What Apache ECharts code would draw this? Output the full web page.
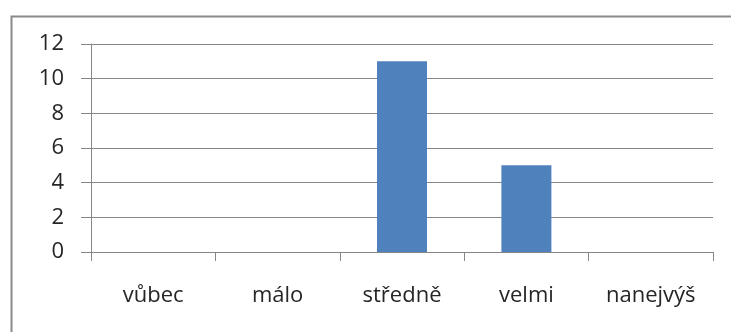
<!DOCTYPE html>
<html>
<head>
<meta charset="utf-8">
<script src="https://cdn.jsdelivr.net/npm/echarts@6/dist/echarts.min.js"></script>
<style>
  html, body { margin: 0; padding: 0; background: #ffffff; }
  #chart { width: 731px; height: 332px; }
</style>
</head>
<body>
<div id="chart"></div>
<script>
// Answer categories and counts
const categories = ['vůbec', 'málo', 'středně', 'velmi', 'nanejvýš'];
const counts = [0, 0, 11, 5, 0];
const yTicks = { min: 0, max: 12, step: 2 };

const gridGray = '#868686';
const textColor = '#262626';
const fontFamily = '"Open Sans", "DejaVu Sans", sans-serif';

const chart = echarts.init(document.getElementById('chart'), null, { renderer: 'canvas' });

chart.setOption({
  animation: false,
  backgroundColor: '#ffffff',
  graphic: [{
    type: 'rect',
    left: 9,
    top: 14,
    shape: { width: 800, height: 400 },
    style: { fill: 'none', stroke: '#8a8a8a', lineWidth: 2 },
    silent: true
  }],
  grid: { left: 91, right: 18, top: 44, bottom: 80, containLabel: false },
  xAxis: {
    type: 'category',
    data: categories,
    boundaryGap: true,
    axisLine: { show: true, lineStyle: { color: gridGray, width: 1 } },
    axisTick: { show: true, length: 9, interval: 0, alignWithLabel: false, lineStyle: { color: gridGray } },
    axisLabel: { color: textColor, fontSize: 22, fontFamily: fontFamily, margin: 33, interval: 0 },
    splitLine: { show: false }
  },
  yAxis: {
    type: 'value',
    min: yTicks.min,
    max: yTicks.max,
    interval: yTicks.step,
    axisLine: { show: true, lineStyle: { color: gridGray, width: 1 } },
    axisTick: { show: true, length: 10, lineStyle: { color: gridGray } },
    axisLabel: { color: textColor, fontSize: 22, fontFamily: fontFamily, margin: 27 },
    splitLine: { show: true, lineStyle: { color: gridGray, width: 1 } }
  },
  series: [{
    type: 'bar',
    data: counts,
    barWidth: 50,
    itemStyle: { color: '#4f81bd' }
  }]
});
</script>
</body>
</html>
